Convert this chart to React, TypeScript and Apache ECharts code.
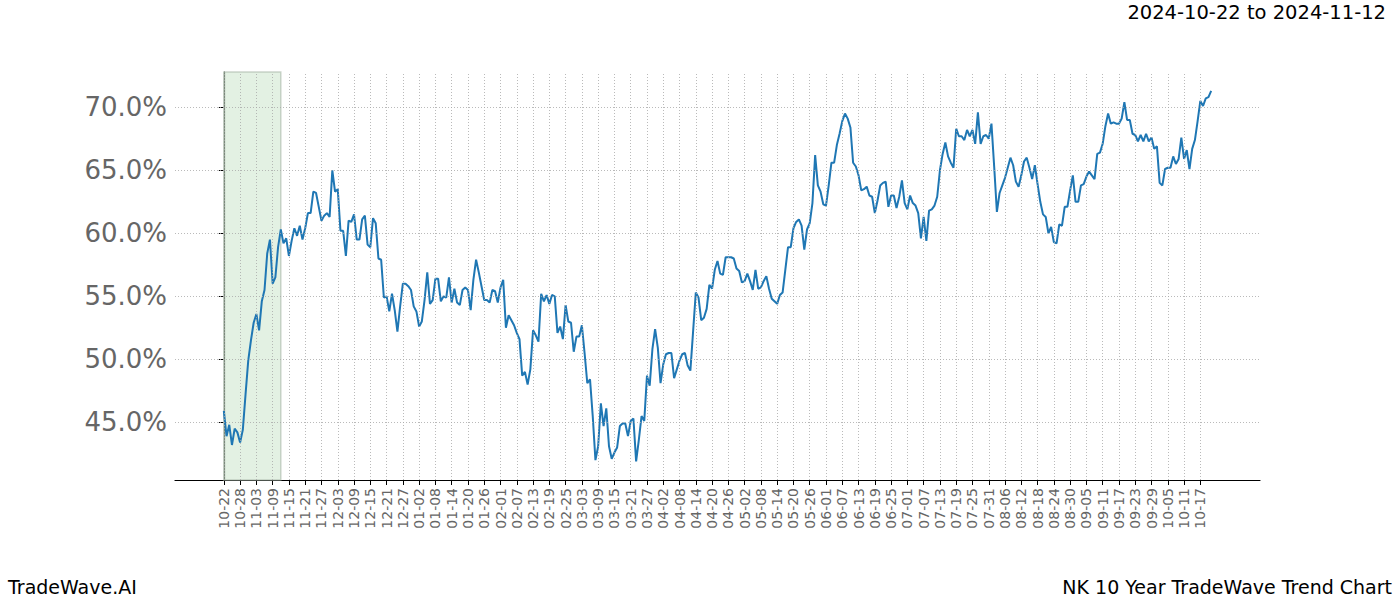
import React, { useEffect, useRef } from "react";
import * as echarts from "echarts";

const FONT = "DejaVu Sans";
const TITLE = "2024-10-22 to 2024-11-12";
const FOOT_LEFT = "TradeWave.AI";
const FOOT_RIGHT = "NK 10 Year TradeWave Trend Chart";

// highlighted window: day offsets from 2024-10-22
const highlightStart = 0;
const highlightEnd = 21;

// x tick labels, one every 6 days starting at 2024-10-22
const xTickLabels = [
  "10-22", "10-28", "11-03", "11-09", "11-15", "11-21", "11-27", "12-03", "12-09", "12-15",
  "12-21", "12-27", "01-02", "01-08", "01-14", "01-20", "01-26", "02-01", "02-07", "02-13",
  "02-19", "02-25", "03-03", "03-09", "03-15", "03-21", "03-27", "04-02", "04-08", "04-14",
  "04-20", "04-26", "05-02", "05-08", "05-14", "05-20", "05-26", "06-01", "06-07", "06-13",
  "06-19", "06-25", "07-01", "07-07", "07-13", "07-19", "07-25", "07-31", "08-06", "08-12",
  "08-18", "08-24", "08-30", "09-05", "09-11", "09-17", "09-23", "09-29", "10-05", "10-11",
  "10-17",
];
const xTickStep = 6;
const yTickValues = [45, 50, 55, 60, 65, 70];

// daily values (%), day 0 = 2024-10-22
const valuesA = [
  45.9, 43.9, 44.8, 43.2, 44.5, 44.2, 43.4, 44.4, 47.2, 49.9,
  51.5, 52.9, 53.6, 52.3, 54.6, 55.5, 58.4, 59.5, 56.0, 56.5,
  58.9, 60.3, 59.2, 59.6, 58.2, 59.4, 60.4, 59.8, 60.6, 59.5,
  60.4, 61.6, 61.6, 63.3, 63.2, 62.1, 61.0, 61.4, 61.6, 61.3,
  65.0, 63.3, 63.5, 60.2, 60.2, 58.2, 61.0, 60.9, 61.5, 59.5,
  59.5, 61.1, 61.4, 59.1, 58.9, 61.2, 60.8, 58.0, 57.9, 54.9,
  55.0, 53.8, 55.2, 53.9, 52.2, 54.2, 56.0, 56.0, 55.8, 55.5,
  54.2, 53.8, 52.6, 53.0, 54.7, 56.9, 54.4, 54.7, 56.4, 56.4,
  54.6, 55.0, 54.9, 56.5, 54.5, 55.6, 54.5, 54.3, 55.5, 55.7,
];
const valuesB = [
  55.5, 53.9, 56.3, 57.9, 56.9, 55.8, 54.7, 54.7, 54.5, 55.5,
  55.4, 54.5, 55.7, 56.3, 52.5, 53.5, 53.1, 52.7, 52.1, 51.6,
  48.7, 49.0, 48.0, 49.2, 52.3, 51.9, 51.4, 55.2, 54.6, 55.1,
  54.4, 55.1, 55.0, 52.1, 52.6, 51.6, 54.3, 53.0, 52.9, 50.6,
  51.8, 51.8, 52.7, 50.5, 48.1, 48.4, 45.5, 42.0, 43.1, 46.5,
  44.7, 46.1, 43.1, 42.1, 42.6, 43.0, 44.7, 44.9, 44.9, 43.9,
  45.1, 45.3, 41.9, 43.6, 45.5, 45.1, 48.7, 47.9, 50.8, 52.4,
  50.9, 48.1, 49.6, 50.4, 50.5, 50.5, 48.5, 49.2, 49.9, 50.4,
  50.5, 49.5, 49.1, 52.2, 55.3, 54.9, 53.1, 53.3, 54.0, 55.9,
];
const valuesC = [
  55.6, 57.1, 57.8, 56.8, 56.7, 58.1, 58.1, 58.1, 58.0, 57.2,
  57.0, 56.1, 56.2, 56.8, 56.2, 55.5, 57.1, 55.6, 55.7, 56.2,
  56.6, 55.6, 54.8, 54.6, 54.4, 55.1, 55.3, 57.1, 58.9, 58.9,
  60.4, 60.9, 61.1, 60.6, 58.7, 60.3, 60.8, 62.4, 66.2, 63.8,
  63.3, 62.3, 62.2, 63.8, 65.6, 65.6, 67.0, 67.9, 68.9, 69.5,
  69.1, 68.4, 65.6, 65.3, 64.6, 63.4, 63.5, 63.7, 63.0, 62.9,
  61.6, 62.6, 63.8, 64.0, 64.1, 62.1, 63.0, 63.0, 62.0, 62.9,
  64.2, 62.4, 61.9, 63.0, 62.4, 62.2, 61.6, 59.6, 61.3, 59.4,
  61.8, 61.9, 62.2, 62.9, 65.0, 66.3, 67.2, 66.1, 65.6, 65.2,
];
const valuesD = [
  68.3, 67.7, 67.7, 67.4, 68.2, 67.7, 68.2, 67.1, 69.6, 67.1,
  67.7, 67.8, 67.5, 68.7, 65.3, 61.7, 63.2, 63.8, 64.4, 65.2,
  66.0, 65.4, 64.1, 63.7, 64.6, 65.7, 66.0, 65.2, 64.3, 65.4,
  63.9, 62.5, 61.5, 61.3, 60.0, 60.5, 59.3, 59.2, 60.7, 60.6,
  62.1, 62.1, 63.4, 64.6, 62.5, 62.5, 63.8, 63.9, 64.5, 64.9,
  64.6, 64.3, 66.3, 66.4, 67.1, 68.5, 69.5, 68.7, 68.8, 68.7,
  68.7, 69.1, 70.4, 69.0, 69.0, 67.9, 67.8, 67.3, 67.8, 67.3,
  67.9, 67.3, 67.6, 66.7, 66.9, 64.0, 63.8, 65.1, 65.2, 65.2,
  66.1, 65.5, 65.9, 67.6, 65.9, 66.6, 65.1, 66.7, 67.4, 68.9,
  70.5, 70.1, 70.7, 70.8, 71.3,
];

const values = [...valuesA, ...valuesB, ...valuesC, ...valuesD];

export default function App() {
  const ref = useRef<HTMLDivElement>(null);

  useEffect(() => {
    if (!ref.current) return;
    const chart = echarts.init(ref.current, null, { renderer: "svg" });
    const tickDays = xTickLabels.map((_, i) => i * xTickStep);
    const gridStyle = { color: "#a8a8a8", type: [1, 2], width: 0.8 };

    chart.setOption({
      animation: false,
      backgroundColor: "#ffffff",
      textStyle: { fontFamily: FONT },
      grid: { left: 175, right: 140, top: 72, bottom: 120, containLabel: false },
      xAxis: {
        type: "value",
        min: -18,
        max: 382,
        axisLine: { show: true, lineStyle: { color: "#000", width: 1.2 } },
        axisTick: {
          show: true,
          customValues: tickDays,
          length: 5,
          lineStyle: { color: "#000", width: 1 },
        },
        axisLabel: {
          customValues: tickDays,
          rotate: 90,
          margin: 8,
          fontSize: 14,
          color: "#666666",
          fontFamily: FONT,
          formatter: (v: number) => {
            const i = Math.round(v / xTickStep);
            return xTickLabels[i] ?? "";
          },
        },
        splitLine: { show: false },
      },
      yAxis: {
        type: "value",
        min: 40.42,
        max: 72.8,
        axisLine: { show: true, lineStyle: { color: "#000", width: 1.2 } },
        axisTick: {
          show: true,
          customValues: yTickValues,
          length: 5,
          lineStyle: { color: "#000", width: 1 },
        },
        axisLabel: {
          customValues: yTickValues,
          margin: 8,
          fontSize: 26,
          color: "#666666",
          fontFamily: FONT,
          formatter: (v: number) => v.toFixed(1) + "%",
        },
        splitLine: { show: false },
      },
      series: [
        {
          type: "line",
          data: [],
          z: 1,
          silent: true,
          markArea: {
            silent: true,
            itemStyle: {
              color: "rgba(200,228,200,0.5)",
              borderColor: "rgba(170,185,170,0.6)",
              borderWidth: 1.5,
            },
            data: [[{ xAxis: highlightStart }, { xAxis: highlightEnd }]],
          },
          markLine: {
            silent: true,
            symbol: ["none", "none"],
            label: { show: false },
            lineStyle: gridStyle,
            data: [
              ...tickDays.map((d) => ({ xAxis: d })),
              ...yTickValues.map((v) => ({ yAxis: v })),
            ],
          },
        },
        {
          type: "line",
          data: values.map((v, i) => [i, v]),
          showSymbol: false,
          symbol: "none",
          lineStyle: { color: "#1f77b4", width: 2 },
          itemStyle: { color: "#1f77b4" },
          z: 3,
        },
      ],
      graphic: [
        {
          type: "text",
          right: 14,
          top: 2,
          style: { text: TITLE, fontSize: 19.5, fill: "#000", fontFamily: FONT },
        },
        {
          type: "text",
          left: 8,
          top: 577,
          style: { text: FOOT_LEFT, fontSize: 19, fill: "#000", fontFamily: FONT },
        },
        {
          type: "text",
          right: 8,
          top: 577,
          style: { text: FOOT_RIGHT, fontSize: 19, fill: "#000", fontFamily: FONT },
        },
      ],
    });

    return () => chart.dispose();
  }, []);

  return (
    <div
      ref={ref}
      style={{ position: "fixed", left: 0, top: 0, width: 1400, height: 600 }}
    />
  );
}
